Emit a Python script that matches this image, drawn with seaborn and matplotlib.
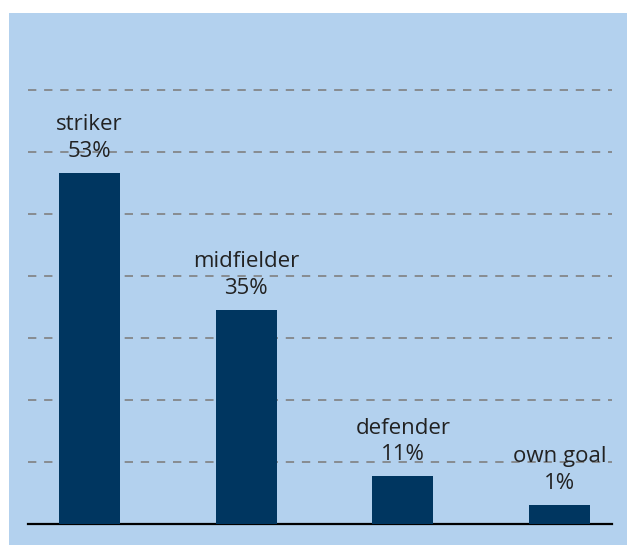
import matplotlib
matplotlib.use("Agg")
import matplotlib.pyplot as plt
import seaborn as sns
import pandas as pd
from matplotlib.patches import Rectangle

# --- data ---
positions = ["striker", "midfielder", "defender", "own goal"]
bar_heights = [56.6, 34.5, 7.7, 3.1]
share_labels = ["53%", "35%", "11%", "1%"]
grid_ticks = [10, 20, 30, 40, 50, 60, 70]

df = pd.DataFrame({"position": positions, "height": bar_heights, "label": share_labels})

# --- colours ---
BG_BLUE = "#b3d1ee"
BAR_NAVY = "#003660"
TEXT_DARK = "#222222"

plt.rcParams["font.family"] = ["Open Sans", "DejaVu Sans"]
plt.rcParams["lines.scale_dashes"] = False

W, H = 627, 545
fig = plt.figure(figsize=(W / 100, H / 100), dpi=100)
fig.patch.set_facecolor("white")

# light blue panel behind everything
fig.patches.append(Rectangle((9 / W, 0), 1 - 9 / W, 1 - 13 / H,
                             transform=fig.transFigure, facecolor=BG_BLUE,
                             edgecolor="none", zorder=-5))

ax = fig.add_axes([28 / W, 21 / H, 584 / W, 511 / H])
ax.set_facecolor("none")

sns.barplot(data=df, x="position", y="height", color=BAR_NAVY,
            saturation=1, width=0.39, ax=ax, zorder=3)

ax.set_xlim(-0.392, 3.334)
ax.set_ylim(0, 82.4)

# dashed horizontal guides
ax.set_yticks(grid_ticks)
ax.yaxis.grid(True, color="#808080", linewidth=1.2, linestyle=(0, (6, 5.6)))
ax.set_axisbelow(True)

for s in ["top", "left", "right"]:
    ax.spines[s].set_visible(False)
ax.spines["bottom"].set_color("black")
ax.spines["bottom"].set_linewidth(1.6)
ax.tick_params(left=False, bottom=False, labelleft=False, labelbottom=False)
ax.set_xlabel("")
ax.set_ylabel("")

# category + share label above each bar
for i, row in df.iterrows():
    ax.annotate(f"{row['position']}\n{row['label']}",
                (i, row["height"]), xytext=(0, 8), textcoords="offset points",
                ha="center", va="bottom", fontsize=16,
                color=TEXT_DARK, linespacing=1.35, zorder=5)

fig.savefig("out.png", dpi=100, facecolor=fig.get_facecolor())
